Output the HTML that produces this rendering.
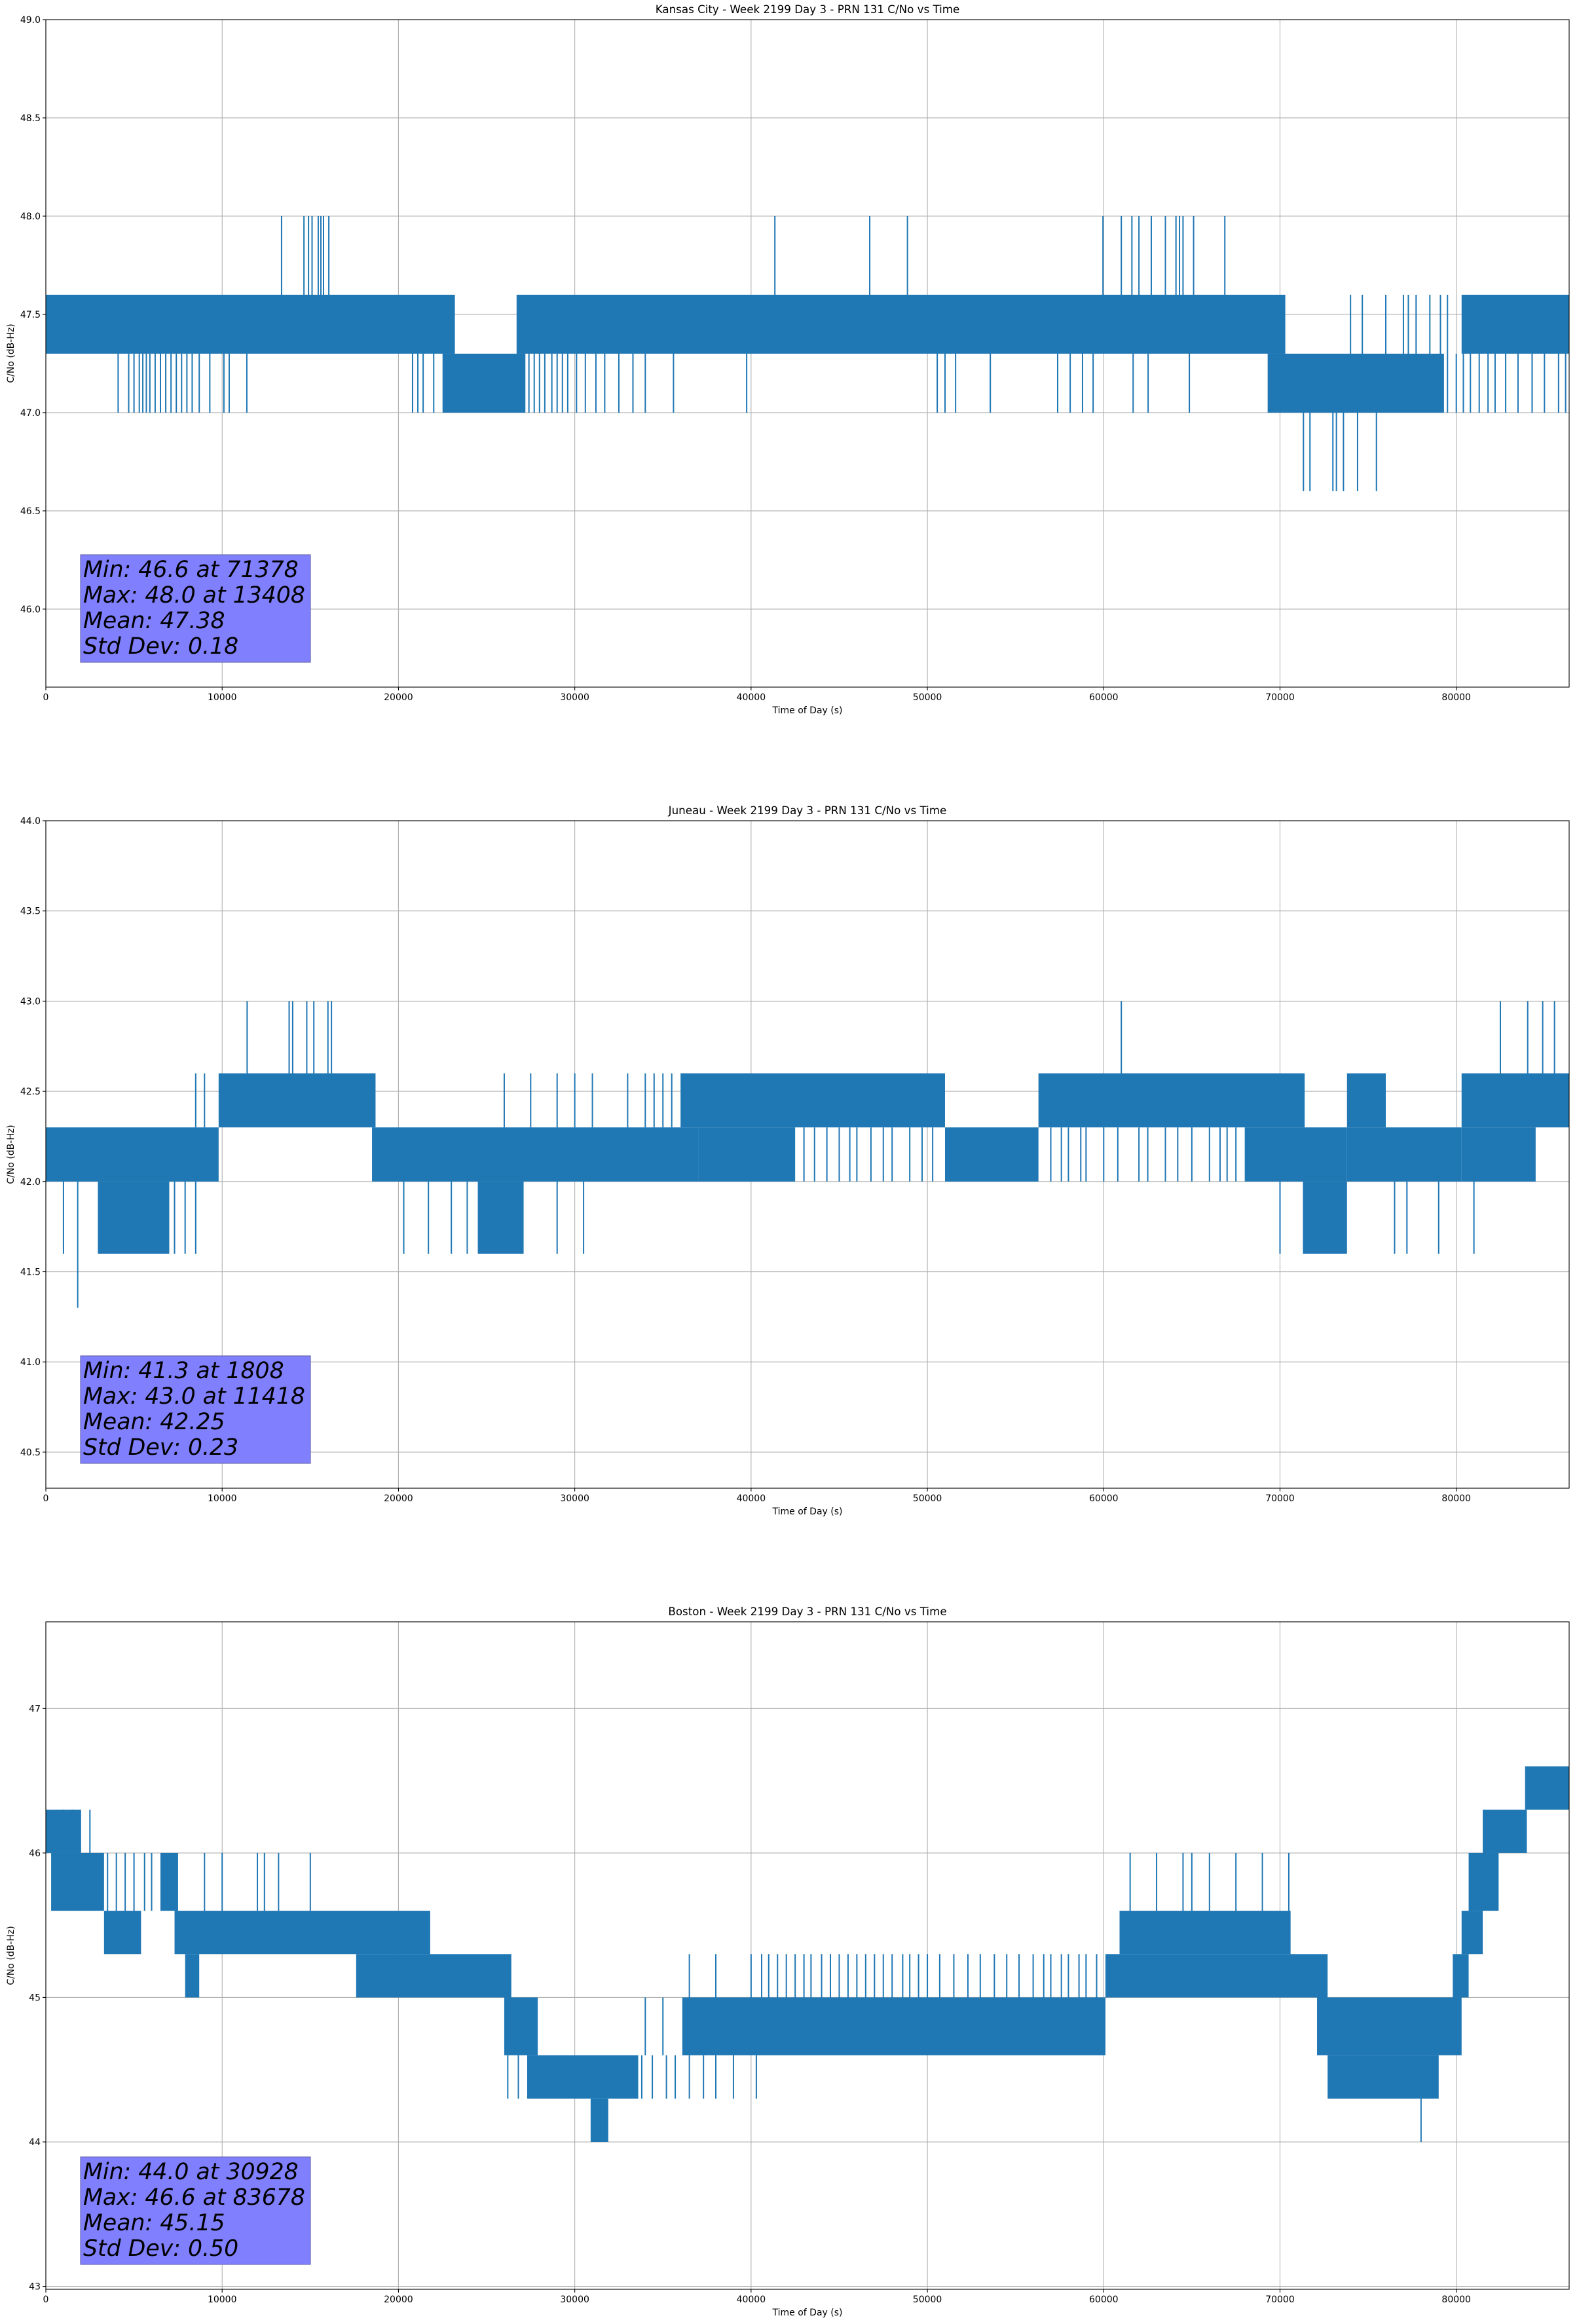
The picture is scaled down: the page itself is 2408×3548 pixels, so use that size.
<!DOCTYPE html>
<html><head><meta charset="utf-8">
<style>
html,body{margin:0;padding:0;background:#fff;}
svg{display:block;font-family:"DejaVu Sans","Liberation Sans",sans-serif;}
</style></head>
<body>
<svg id="fig" width="2408" height="3548" viewBox="0 0 2408 3548" xmlns="http://www.w3.org/2000/svg"></svg>
<script>
// ---------- Kansas City ----------
const kcBandStart=[0,26700,22500,69300,80300];
const kcBandEnd=[23200,70300,27200,79300,86400];
const kcBandLo=[47.3,47.3,47.0,47.0,47.3];
const kcBandHi=[47.6,47.6,47.3,47.3,47.6];
// spike groups: times per group, with the group's low/high value
const kcSpikeTimes=[
 [13370,14640,14900,15100,15450,15600,15750,16050,41350,46730,48870,59960,61000,61600,62000,62700,63500,64100,64300,64500,65100,66870],
 [4100,4700,5000,5300,5500,5700,5900,6200,6500,6800,7100,7400,7700,8000,8300,8700,9300,10100,10400,11400,
  20800,21100,21400,22000,27400,27700,28000,28300,28700,29000,29300,29600,30100,30600,31200,31700,32500,33300,34000,35600,39750,
  50560,51000,51600,53570,57390,58100,58800,59400,61670,62520,64860,
  79500,80000,80400,80800,81300,81800,82200,82800,83500,84300,85000,85800,86200],
 [74000,74670,76000,77000,77280,77720,78500,79100,79500],
 [71330,71700,73000,73200,73600,74400,75470]];
const kcSpikeLo=[47.6,47.0,47.3,46.6];
const kcSpikeHi=[48.0,47.3,47.6,47.0];
const kcYTicks=[46.0,46.5,47.0,47.5,48.0,48.5,49.0];
const kcYTickLabels=["46.0","46.5","47.0","47.5","48.0","48.5","49.0"];
const kcStats=["Min: 46.6 at 71378","Max: 48.0 at 13408","Mean: 47.38","Std Dev: 0.18"];

// ---------- Juneau ----------
const jnBandStart=[0,2950,9800,18500,24500,36000,51000,56300,68000,71300,73800,73800,80300,80300,37000];
const jnBandEnd=[9800,7000,18700,37000,27100,51000,56300,71400,73800,73800,80300,76000,86400,84500,42500];
const jnBandLo=[42.0,41.6,42.3,42.0,41.6,42.3,42.0,42.3,42.0,41.6,42.0,42.3,42.3,42.0,42.0];
const jnBandHi=[42.3,42.0,42.6,42.3,42.0,42.6,42.3,42.6,42.3,42.0,42.3,42.6,42.6,42.3,42.3];
const jnSpikeTimes=[
 [11418,13800,14000,14800,15200,16000,16200,61000,82500,84050,84900,85570],
 [1000,7300,7900,8500,20300,21700,23000,23900,29000,30500,70000,76500,77200,79000,81000],
 [1808],
 [26000,27500,29000,30000,31000,33000,34000,34500,35000,35500,8500,9000],
 [43000,43600,44300,45000,45600,46000,46800,47500,48000,49000,49700,50300,
  57000,57600,58000,58700,59000,60000,60800,62000,62500,63500,64200,65000,66000,66600,67000,67500]];
const jnSpikeLo=[42.6,41.6,41.3,42.3,42.0];
const jnSpikeHi=[43.0,42.0,42.0,42.6,42.3];
const jnYTicks=[40.5,41.0,41.5,42.0,42.5,43.0,43.5,44.0];
const jnYTickLabels=["40.5","41.0","41.5","42.0","42.5","43.0","43.5","44.0"];
const jnStats=["Min: 41.3 at 1808","Max: 43.0 at 11418","Mean: 42.25","Std Dev: 0.23"];

// ---------- Boston ----------
const bsBandStart=[0,300,3300,6500,7300,7900,17600,26000,27300,30900,36100,60100,60900,72100,72700,79800,80300,80700,81500,83900];
const bsBandEnd=[2000,3300,5400,7500,21800,8700,26400,27900,33600,31900,60100,72700,70600,80300,79000,80700,81500,82400,84000,86400];
const bsBandLo=[46.0,45.6,45.3,45.6,45.3,45.0,45.0,44.6,44.3,44.0,44.6,45.0,45.3,44.6,44.3,45.0,45.3,45.6,46.0,46.3];
const bsBandHi=[46.3,46.0,45.6,46.0,45.6,45.3,45.3,45.0,44.6,44.3,45.0,45.3,45.6,45.0,44.6,45.3,45.6,46.0,46.3,46.6];
const bsSpikeTimes=[
 [9000,10000,12000,12400,13200,15000,65000,61500,63000,64500,66000,67500,69000,70500,3500,4000,4500,5000,5600,6000],
 [36500,38000,40000,40600,41000,41500,42000,42500,43000,43400,44000,44500,45000,45500,46000,46500,47000,47500,48000,48600,49000,49500,50000,50700,51500,52300,53000,53800,54500,55200,56000,56600,57000,57600,58000,58600,59000,59600],
 [36500,37300,38000,39000,40300,26200,26800,33800,34400,35200,35700],
 [78000],
 [1000,1500,2500],
 [34000,35000]];
const bsSpikeLo=[45.6,45.0,44.3,44.0,46.0,44.6];
const bsSpikeHi=[46.0,45.3,44.6,44.3,46.3,45.0];
const bsYTicks=[43,44,45,46,47];
const bsYTickLabels=["43","44","45","46","47"];
const bsStats=["Min: 44.0 at 30928","Max: 46.6 at 83678","Mean: 45.15","Std Dev: 0.50"];

const xTicks=[0,10000,20000,30000,40000,50000,60000,70000,80000];
const xTickLabels=["0","10000","20000","30000","40000","50000","60000","70000","80000"];

const NS="http://www.w3.org/2000/svg";
const svg=document.getElementById('fig');
const X0=70,X1=2396,XMAX=86400;
function sx(t){return X0+(t/XMAX)*(X1-X0);}
function mk(tag,attrs,parent){const e=document.createElementNS(NS,tag);for(const k in attrs)e.setAttribute(k,attrs[k]);(parent||svg).appendChild(e);return e;}

function drawChart(key,title,top,bottom,ymin,ymax,bS,bE,bL,bH,sT,sL,sH,yT,yTL,stats){
  const g=mk('g',{});
  
  
  const sy=v=>bottom-(v-ymin)/(ymax-ymin)*(bottom-top);
  xTicks.forEach(t=>{const l=mk('line',{x1:sx(t),x2:sx(t),y1:top,y2:bottom,stroke:'#b0b0b0','stroke-width':1.1},g);
    });
  yT.forEach(v=>{const l=mk('line',{x1:X0,x2:X1,y1:sy(v),y2:sy(v),stroke:'#b0b0b0','stroke-width':1.1},g);
    });
  for(let i=0;i<bS.length;i++){
    const r=mk('rect',{x:sx(bS[i]),y:sy(bH[i]),width:sx(bE[i])-sx(bS[i]),height:sy(bL[i])-sy(bH[i]),fill:'#1f77b4'},g);
    
    
  }
  for(let k=0;k<sT.length;k++){
    for(let i=0;i<sT[k].length;i++){
      const l=mk('line',{x1:sx(sT[k][i]),x2:sx(sT[k][i]),y1:sy(sL[k]),y2:sy(sH[k]),stroke:'#1f77b4','stroke-width':2},g);
      
      
    }
  }
  const f=mk('rect',{x:X0,y:top,width:X1-X0,height:bottom-top,fill:'none',stroke:'#000','stroke-width':1.1},g);
  
  
  xTicks.forEach((t,i)=>{
    mk('line',{x1:sx(t),x2:sx(t),y1:bottom,y2:bottom+5,stroke:'#000','stroke-width':1.1},g);
    const tx=mk('text',{x:sx(t),y:bottom+20,'font-size':14,'text-anchor':'middle',fill:'#000'},g);
    tx.textContent=xTickLabels[i];
    
    
  });
  yT.forEach((v,i)=>{
    mk('line',{x1:X0-5,x2:X0,y1:sy(v),y2:sy(v),stroke:'#000','stroke-width':1.1},g);
    const tx=mk('text',{x:X0-8,y:sy(v)+5,'font-size':14,'text-anchor':'end',fill:'#000'},g);
    tx.textContent=yTL[i];
    
    
  });
  const tt=mk('text',{x:(X0+X1)/2,y:top-10,'font-size':16.7,'text-anchor':'middle',fill:'#000'},g);
  tt.textContent=title;
  
  
  const xl=mk('text',{x:(X0+X1)/2,y:bottom+40,'font-size':14,'text-anchor':'middle',fill:'#000'},g);
  xl.textContent='Time of Day (s)';
  
  
  const cy=(top+bottom)/2;
  const yl=mk('text',{x:21,y:cy,'font-size':14,'text-anchor':'middle',fill:'#000',transform:`rotate(-90 21 ${cy})`},g);
  yl.textContent='C/No (dB-Hz)';
  
  
  const bb=bottom-38, bt=bb-164;
  const box=mk('rect',{x:123,y:bt,width:351,height:164,fill:'#8080ff',stroke:'#6a6ab0','stroke-width':1.2},g);
  
  
  stats.forEach((s,i)=>{
    const t=mk('text',{x:127,y:bt+34+i*39,'font-size':34.7,'font-style':'oblique',fill:'#000'},g);
    t.textContent=s;
    
    
  });
}

drawChart('kansas-city','Kansas City - Week 2199 Day 3 - PRN 131 C/No vs Time',30,1049,45.603,49.0,
  kcBandStart,kcBandEnd,kcBandLo,kcBandHi,kcSpikeTimes,kcSpikeLo,kcSpikeHi,kcYTicks,kcYTickLabels,kcStats);
drawChart('juneau','Juneau - Week 2199 Day 3 - PRN 131 C/No vs Time',1253,2272,40.3,44.0,
  jnBandStart,jnBandEnd,jnBandLo,jnBandHi,jnSpikeTimes,jnSpikeLo,jnSpikeHi,jnYTicks,jnYTickLabels,jnStats);
drawChart('boston','Boston - Week 2199 Day 3 - PRN 131 C/No vs Time',2476,3495,42.98,47.6,
  bsBandStart,bsBandEnd,bsBandLo,bsBandHi,bsSpikeTimes,bsSpikeLo,bsSpikeHi,bsYTicks,bsYTickLabels,bsStats);
</script>
</body></html>
